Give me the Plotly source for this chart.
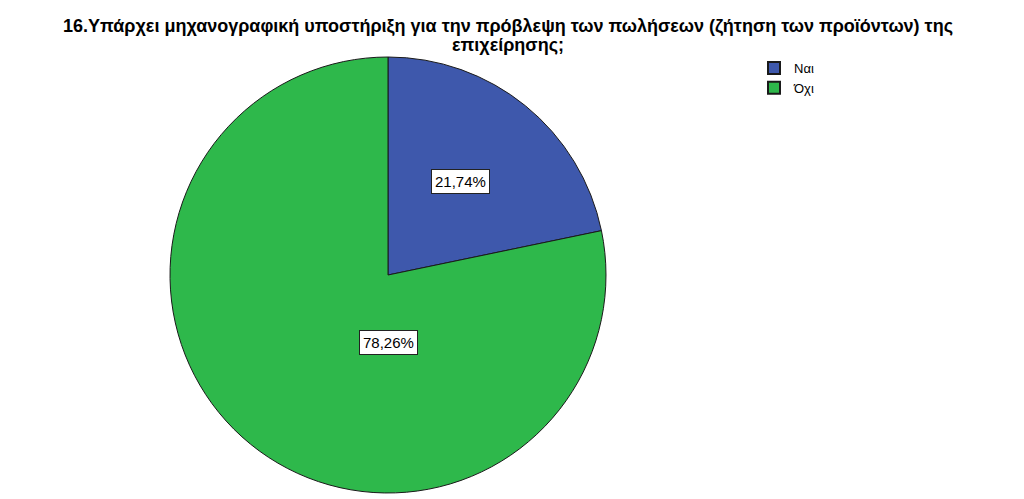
import plotly.graph_objects as go

# survey answers (counts out of 23)
labels = ["Ναι", "Όχι"]
counts = [5, 18]
pct_text = ["21,74%", "78,26%"]
colors = ["#3E58AC", "#2EB84B"]
title_lines = [
    "16.Υπάρχει μηχανογραφική υποστήριξη για την πρόβλεψη των πωλήσεων (ζήτηση των προϊόντων) της",
    "επιχείρησης;",
]

W, H = 1024, 499
FONT = "Arial, Liberation Sans"

fig = go.Figure(go.Pie(
    labels=labels,
    values=counts,
    sort=False,
    direction="clockwise",
    rotation=0,
    marker=dict(colors=colors, line=dict(color="#1a1a1a", width=1)),
    textinfo="none",
    hoverinfo="label+percent",
    domain=dict(x=[170 / W, 606 / W], y=[1 - 493 / H, 1 - 57 / H]),
))

# boxed percentage labels, SPSS style
label_pos = [(460, 181), (388, 355)]
for (px_, py_), t in zip(label_pos, pct_text):
    fig.add_annotation(
        x=px_ / W, y=1 - py_ / H, xref="paper", yref="paper",
        text=t, showarrow=False,
        font=dict(family=FONT, size=15, color="black"),
        bgcolor="white", bordercolor="#222", borderwidth=1, borderpad=3,
    )

for yy, line in zip([27, 45], title_lines):
    fig.add_annotation(
        x=508 / W, y=1 - yy / H, xref="paper", yref="paper",
        xanchor="center", yanchor="middle",
        text="<b>" + line + "</b>",
        showarrow=False, borderpad=0,
        font=dict(family=FONT, size=18, color="black"),
    )

fig.update_layout(
    width=W, height=H,
    margin=dict(l=0, r=0, t=0, b=0),
    paper_bgcolor="white",
    plot_bgcolor="white",
    showlegend=True,
    legend=dict(
        x=754 / W, y=1 - 53 / H, xanchor="left", yanchor="top",
        font=dict(family=FONT, size=13, color="black"),
        itemsizing="constant", tracegroupgap=0,
    ),
)

fig.write_html("out.html", config={"displayModeBar": False},
               post_script="document.body.style.margin='0';")
